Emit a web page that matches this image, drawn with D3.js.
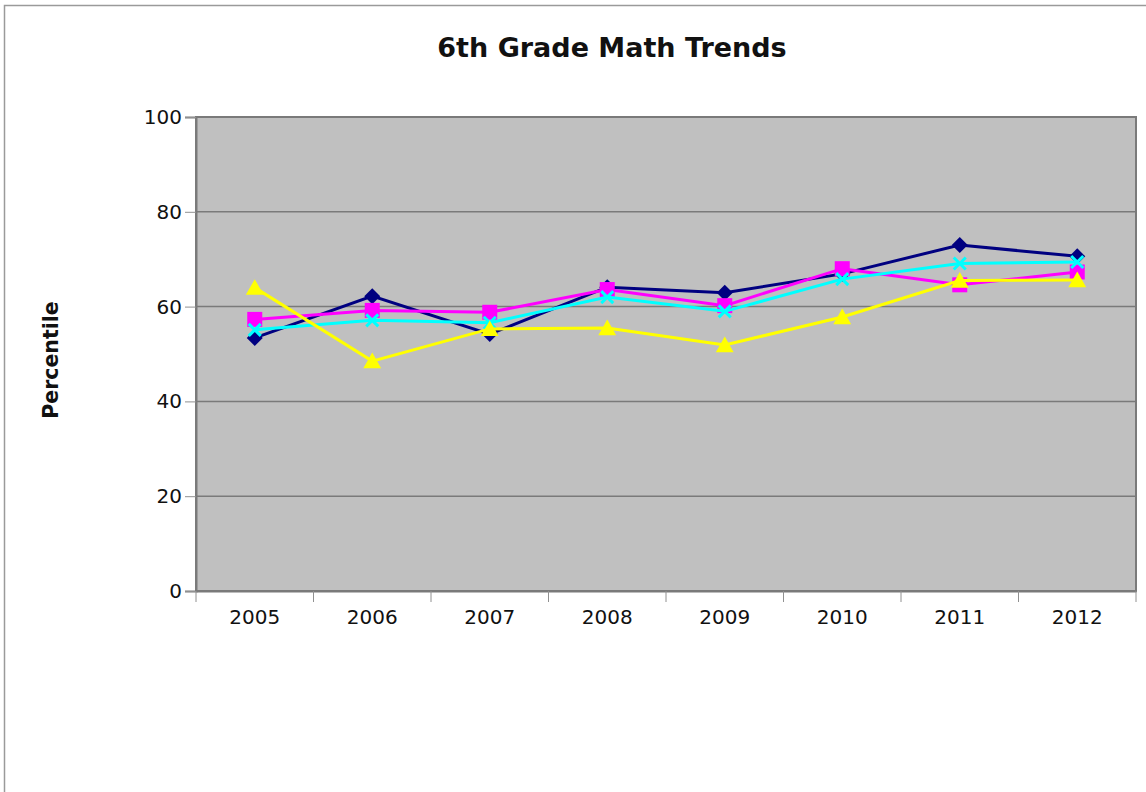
<!DOCTYPE html>
<html>
<head>
<meta charset="utf-8">
<script src="https://cdn.jsdelivr.net/npm/d3@7"></script>
<style>
  html, body { margin: 0; padding: 0; background: #fff; }
  svg { display: block; }
  text { font-family: "DejaVu Sans", Verdana, sans-serif; }
</style>
</head>
<body>
<svg id="chart" width="1146" height="792"></svg>
<script>
const years = ["2005", "2006", "2007", "2008", "2009", "2010", "2011", "2012"];
const navyValues    = [53.4, 62.2, 54.2, 64.1, 62.9, 66.9, 73.0, 70.6];
const magentaValues = [57.3, 59.2, 58.8, 63.6, 60.2, 68.0, 64.6, 67.3];
const cyanValues    = [55.1, 57.1, 56.6, 62.0, 59.0, 65.8, 69.1, 69.4];
const yellowValues  = [64.0, 48.5, 55.3, 55.5, 51.9, 57.8, 65.5, 65.6];
const yTicks = [0, 20, 40, 60, 80, 100];

// marker shape generators (relative to point centre)
const markerPaths = {
  diamond: r => `M0,${-r}L${r},0L0,${r}L${-r},0Z`,
  square: r => `M${-r},${-r}H${r}V${r}H${-r}Z`,
  triangle: r => `M0,${-r}L${r * 1.05},${r * 0.85}H${-r * 1.05}Z`,
  x: r => `M${-r},${-r}L${r},${r}M${-r},${r}L${r},${-r}`
};

const series = [
  { name: "navy", values: navyValues, color: "#000080", marker: "diamond", r: 8 },
  { name: "magenta", values: magentaValues, color: "#FF00FF", marker: "square", r: 7.5 },
  { name: "cyan", values: cyanValues, color: "#00FFFF", marker: "x", r: 6 },
  { name: "yellow", values: yellowValues, color: "#FFFF00", marker: "triangle", r: 8.5 }
];

const svg = d3.select("#chart");
const plot = { left: 196, right: 1136, top: 117, bottom: 591 };

// outer chart border
svg.append("rect")
  .attr("x", 4.5).attr("y", 5.5)
  .attr("width", 1160).attr("height", 800)
  .attr("fill", "#fff").attr("stroke", "#9a9a9a").attr("stroke-width", 1.5);

const x = d3.scaleBand().domain(years).range([plot.left, plot.right]).padding(0);
const y = d3.scaleLinear().domain([0, 100]).range([plot.bottom, plot.top]);

// plot area
svg.append("rect")
  .attr("x", plot.left).attr("y", plot.top)
  .attr("width", plot.right - plot.left).attr("height", plot.bottom - plot.top)
  .attr("fill", "#C0C0C0");

// gridlines
svg.append("g").selectAll("line").data(yTicks.filter(t => t > 0 && t < 100)).join("line")
  .attr("x1", plot.left).attr("x2", plot.right)
  .attr("y1", d => y(d)).attr("y2", d => y(d))
  .attr("stroke", "#7a7a7a").attr("stroke-width", 1.5);

// plot border
svg.append("rect")
  .attr("x", plot.left).attr("y", plot.top)
  .attr("width", plot.right - plot.left).attr("height", plot.bottom - plot.top)
  .attr("fill", "none").attr("stroke", "#7a7a7a").attr("stroke-width", 2);

// y axis
const yAxis = d3.axisLeft(y).tickValues(yTicks).tickSize(11).tickPadding(3);
const gy = svg.append("g").attr("transform", `translate(${plot.left},0)`).call(yAxis);
gy.select(".domain").attr("stroke", "#7a7a7a").attr("stroke-width", 2);
gy.selectAll(".tick line").attr("stroke", "#909090");
gy.selectAll(".tick text").attr("font-size", 20).attr("fill", "#111")
  .attr("font-family", "DejaVu Sans, sans-serif");

// x axis
const xAxis = d3.axisBottom(x).tickSize(0).tickPadding(19);
const gx = svg.append("g").attr("transform", `translate(0,${plot.bottom})`).call(xAxis);
gx.select(".domain").attr("stroke", "#7a7a7a").attr("stroke-width", 2);
gx.selectAll(".tick text").attr("font-size", 20).attr("fill", "#111")
  .attr("font-family", "DejaVu Sans, sans-serif");
// category boundary ticks
const bounds = years.map(d => x(d)).concat([x(years[years.length - 1]) + x.bandwidth()]);
gx.append("g").selectAll("line").data(bounds).join("line")
  .attr("x1", d => d).attr("x2", d => d)
  .attr("y1", 0).attr("y2", 11)
  .attr("stroke", "#909090").attr("stroke-width", 1);

// lines and markers
const line = d3.line()
  .x((d, i) => x(years[i]) + x.bandwidth() / 2)
  .y(d => y(d));

series.forEach(s => {
  svg.append("path")
    .datum(s.values)
    .attr("d", line)
    .attr("fill", "none")
    .attr("stroke", s.color)
    .attr("stroke-width", 3);
  svg.append("g").selectAll("path").data(s.values).join("path")
    .attr("transform", (v, i) => `translate(${x(years[i]) + x.bandwidth() / 2},${y(v)})`)
    .attr("d", markerPaths[s.marker](s.r))
    .attr("fill", s.marker === "x" ? "none" : s.color)
    .attr("stroke", s.marker === "x" ? s.color : "none")
    .attr("stroke-width", 3);
});

// title
svg.append("text")
  .attr("x", 612).attr("y", 57)
  .attr("text-anchor", "middle")
  .attr("font-size", 27).attr("font-weight", "bold")
  .attr("fill", "#111")
  .text("6th Grade Math Trends");

// y axis title
svg.append("text")
  .attr("transform", "translate(58,360) rotate(-90)")
  .attr("text-anchor", "middle")
  .attr("font-size", 20.5).attr("font-weight", "bold")
  .attr("fill", "#111")
  .text("Percentile");
</script>
</body>
</html>
